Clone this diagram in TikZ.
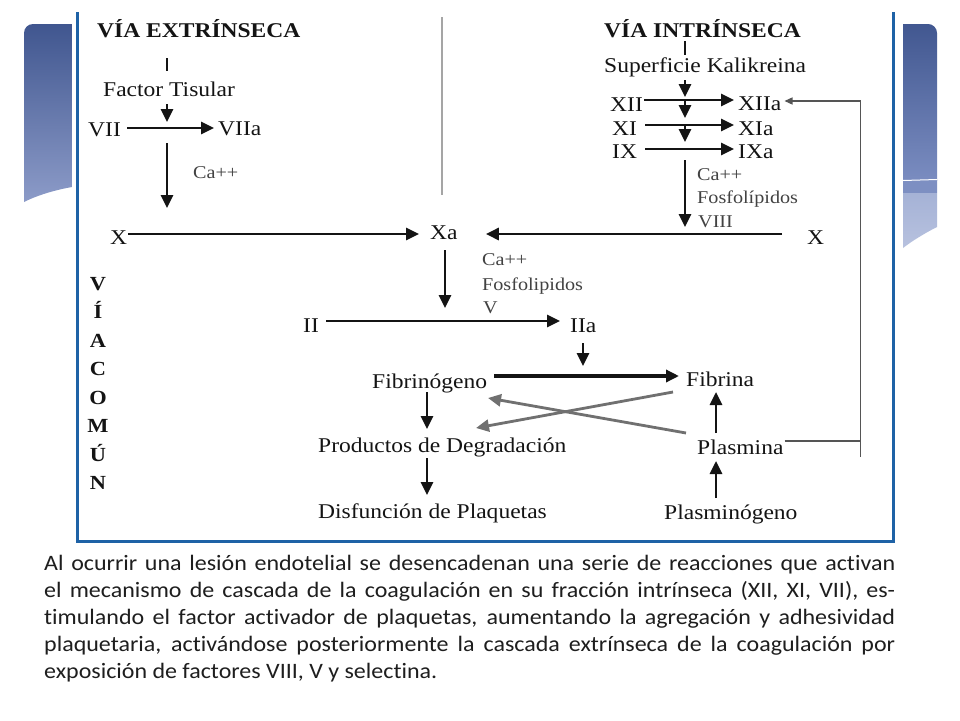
\documentclass[tikz,border=0pt]{standalone}
\usepackage{fontspec}
\setmainfont{Liberation Serif}
\newfontfamily\dfont[FakeStretch=1.12]{Liberation Serif}
\newfontfamily\bfont[FakeStretch=1.09,Ligatures=NoCommon]{Carlito}
\usetikzlibrary{arrows.meta,calc}
\definecolor{frameblue}{RGB}{30,98,166}
\definecolor{decotop}{RGB}{64,86,143}
\definecolor{decobot}{RGB}{140,155,200}
\definecolor{decomid}{RGB}{122,140,192}
\definecolor{decolow}{RGB}{165,178,214}
\definecolor{decolowb}{RGB}{184,194,223}
\definecolor{txt}{RGB}{20,20,20}
\definecolor{subtxt}{RGB}{66,66,66}
\definecolor{bodytxt}{RGB}{30,30,30}
\definecolor{grayarr}{RGB}{112,112,112}
\definecolor{fbline}{RGB}{85,85,85}
\definecolor{divline}{RGB}{165,165,165}
\begin{document}
\begin{tikzpicture}[x=1pt,y=-1pt,
  lbl/.style={anchor=base west, inner sep=0pt, text=txt, font=\dfont\fontsize{21}{21}\selectfont},
  sublbl/.style={anchor=base west, inner sep=0pt, text=subtxt, font=\dfont\fontsize{18}{18}\selectfont},
  ttl/.style={anchor=base west, inner sep=0pt, text=txt, font=\dfont\bfseries\fontsize{21}{21}\selectfont},
  vcl/.style={anchor=base, inner sep=0pt, text=txt, font=\dfont\bfseries\fontsize{20}{20}\selectfont},
  arr/.style={draw=txt, line width=2.8pt, -{Triangle[length=13pt,width=12pt]}},
  thickarr/.style={arr, line width=3.8pt},
  grarr/.style={draw=grayarr, line width=2.8pt, -{Triangle[length=13pt,width=12pt]}},
  tickln/.style={draw=txt, line width=2.6pt},
  fbln/.style={draw=fbline, line width=1.3pt},
  fbarr/.style={fbln, -{Triangle[length=8pt,width=7pt]}},
  framest/.style={draw=frameblue, line width=3pt}
]
\useasboundingbox (0,0) rectangle (960,720);
\fill[white] (0,0) rectangle (960,720);

% decorative slide shapes
\shade[top color=decotop, bottom color=decobot]
  (24,202) -- (24,33) .. controls (24,28) and (28,24) .. (33,24) -- (72,24) -- (72,187)
  .. controls (55,190) and (38,195) .. (24,202) -- cycle;
\begin{scope}
  \clip (903,248) -- (903,24) -- (928,24) .. controls (933,24) and (937,28) .. (937,33)
    -- (937,227) .. controls (925,233) and (912,241) .. (903,248) -- cycle;
  \shade[top color=decotop, bottom color=decomid] (900,20) rectangle (940,180);
  \fill[decomid!92!decolow] (900,180) rectangle (940,193);
  \shade[top color=decolow, bottom color=decolowb] (900,193) rectangle (940,250);
\end{scope}
\draw[white, line width=1pt] (903,180.5) -- (937,179.5);

% frame
\draw[framest] (77,12) -- (77,541) -- (893,541) -- (893,12);

% divider
\draw[divline, line width=1.5pt] (442,17) -- (442,195);

% titles
\node[ttl] (ttle) at (97,37) {VÍA EXTRÍNSECA};
\node[ttl] (ttli) at (604,37) {VÍA INTRÍNSECA};

% extrinsic
\node[lbl] (fac) at (103,96) {Factor Tisular};
\node[lbl] (vii) at (88,136) {VII};
\node[lbl] (viia) at (218,135) {VIIa};
\node[sublbl] (caa) at (193,178) {Ca++};
\node[lbl] (xl) at (110,244) {X};
\node[lbl] (xa) at (430,239) {Xa};

% intrinsic
\node[lbl] (sup) at (604,72) {Superficie Kalikreina};
\node[lbl] (xii) at (610,111) {XII};
\node[lbl] (xiia) at (738,110) {XIIa};
\node[lbl] (xi) at (612,135) {XI};
\node[lbl] (xia) at (738,135) {XIa};
\node[lbl] (ix) at (612,158) {IX};
\node[lbl] (ixa) at (738,158) {IXa};
\node[sublbl] (cab) at (697,180) {Ca++};
\node[sublbl] (fosb) at (697,203) {Fosfolípidos};
\node[sublbl] (viii) at (698,227) {VIII};
\node[lbl] (xr) at (807,244) {X};

% common
\node[sublbl] (cac) at (482,265) {Ca++};
\node[sublbl] (fosc) at (482,290) {Fosfolipidos};
\node[sublbl] (fv) at (483,313) {V};
\node[lbl] (ii) at (303,332) {II};
\node[lbl] (iia) at (570,332) {IIa};
\node[lbl] (fgn) at (372,388) {Fibrinógeno};
\node[lbl] (fib) at (686,386) {Fibrina};
\node[lbl] (pdd) at (318,452) {Productos de Degradación};
\node[lbl] (dis) at (318,518) {Disfunción de Plaquetas};
\node[lbl] (pla) at (697,454) {Plasmina};
\node[lbl] (plg) at (664,519) {Plasminógeno};

% via comun vertical
\foreach \ch [count=\k from 0] in {V,Í,A,C,O,M,Ú,N}
  \node[vcl] (vc\k) at (98,{290+28.57*\k}) {\ch};

% extrinsic connectors
\draw[tickln] ($(fac.base west)+(64,-38)$) -- ($(fac.base west)+(64,-25)$);
\draw[arr] ($(fac.base west)+(64,8)$) -- ($(vii.base west)+(79,-14)$);
\draw[arr] ($(vii.base east)+(6,-8)$) -- ($(viia.base west)+(-4,-7)$);
\draw[arr] ($(vii.base west)+(79,7)$) -- ($(xl.base west)+(57,-36)$);
\draw[arr] ($(xl.base east)+(1,-10)$) -- ($(xa.base west)+(-11,-5)$);

% intrinsic connectors
\draw[tickln] ($(sup.base west)+(81,-31)$) -- ($(sup.base west)+(81,-17)$);
\draw[arr] ($(sup.base west)+(81,8)$) -- ($(xii.base west)+(75,-14)$);
\draw[arr] ($(xii.base east)+(1,-11)$) -- ($(xiia.base west)+(-4,-10)$);
\draw[arr] ($(xi.base east)+(8,-10)$) -- ($(xia.base west)+(-4,-10)$);
\draw[arr] ($(ix.base east)+(8,-9)$) -- ($(ixa.base west)+(-4,-9)$);
\draw[arr] ($(xii.base west)+(75,-11)$) -- ($(xi.base west)+(73,-17)$);
\draw[arr] ($(xi.base west)+(73,-10)$) -- ($(ix.base west)+(73,-16)$);
\draw[arr] ($(ix.base west)+(73,2)$) -- ($(xr.base west)+(-122,-17)$);
\draw[arr] ($(xr.base west)+(-25,-10)$) -- ($(xa.base east)+(28,-5)$);

% common connectors
\draw[arr] ($(xa.base west)+(15,11)$) -- ($(ii.base west)+(142,-24)$);
\draw[arr] ($(ii.base east)+(7,-11)$) -- ($(iia.base west)+(-10,-11)$);
\draw[arr] ($(iia.base west)+(13,11)$) -- ($(fgn.base west)+(211,-22)$);
\draw[thickarr] ($(fgn.base east)+(7,-12)$) -- ($(fib.base west)+(-7,-10)$);
\draw[arr] ($(fgn.base west)+(55,4)$) -- ($(pdd.base west)+(109,-23)$);
\draw[arr] ($(pdd.base west)+(109,6)$) -- ($(dis.base west)+(109,-23)$);
\draw[arr] ($(plg.base west)+(52,-21)$) -- ($(pla.base west)+(19,7)$);
\draw[arr] ($(pla.base west)+(19,-21)$) -- ($(fib.base west)+(30,6)$);
\draw[grarr] ($(fib.base west)+(-13,6)$) -- ($(pdd.base west)+(158,-24)$);
\draw[grarr] ($(pla.base west)+(-11,-21)$) -- ($(fgn.base west)+(116,10)$);

% feedback plasmina -> XIIa
\path ($(pla.base east)+(1,-13)$) coordinate (fba)
      ($(xiia.base east)+(79,-9)$) coordinate (fbb)
      ($(xiia.base east)+(3,-9)$) coordinate (fbt);
\draw[fbarr] (fba) -| (fbb) -- (fbt);
\draw[fbln] (fba -| fbb) -- ++(0,16);

% caption
\node[anchor=north west, inner sep=0pt, text width=851pt, align=justify, text=bodytxt,
      font=\bfont\fontsize{22}{27}\selectfont] (para) at (44,555)
 {\hyphenpenalty10000 Al ocurrir una lesión endotelial se desencadenan una serie de reacciones que activan\linebreak
  el mecanismo de cascada de la coagulación en su fracción intrínseca (XII, XI, VII), es-\linebreak
  timulando el factor activador de plaquetas, aumentando la agregación y adhesividad\linebreak
  plaquetaria, activándose posteriormente la cascada extrínseca de la coagulación por\linebreak
  exposición de factores VIII, V y selectina.};
\end{tikzpicture}
\end{document}
